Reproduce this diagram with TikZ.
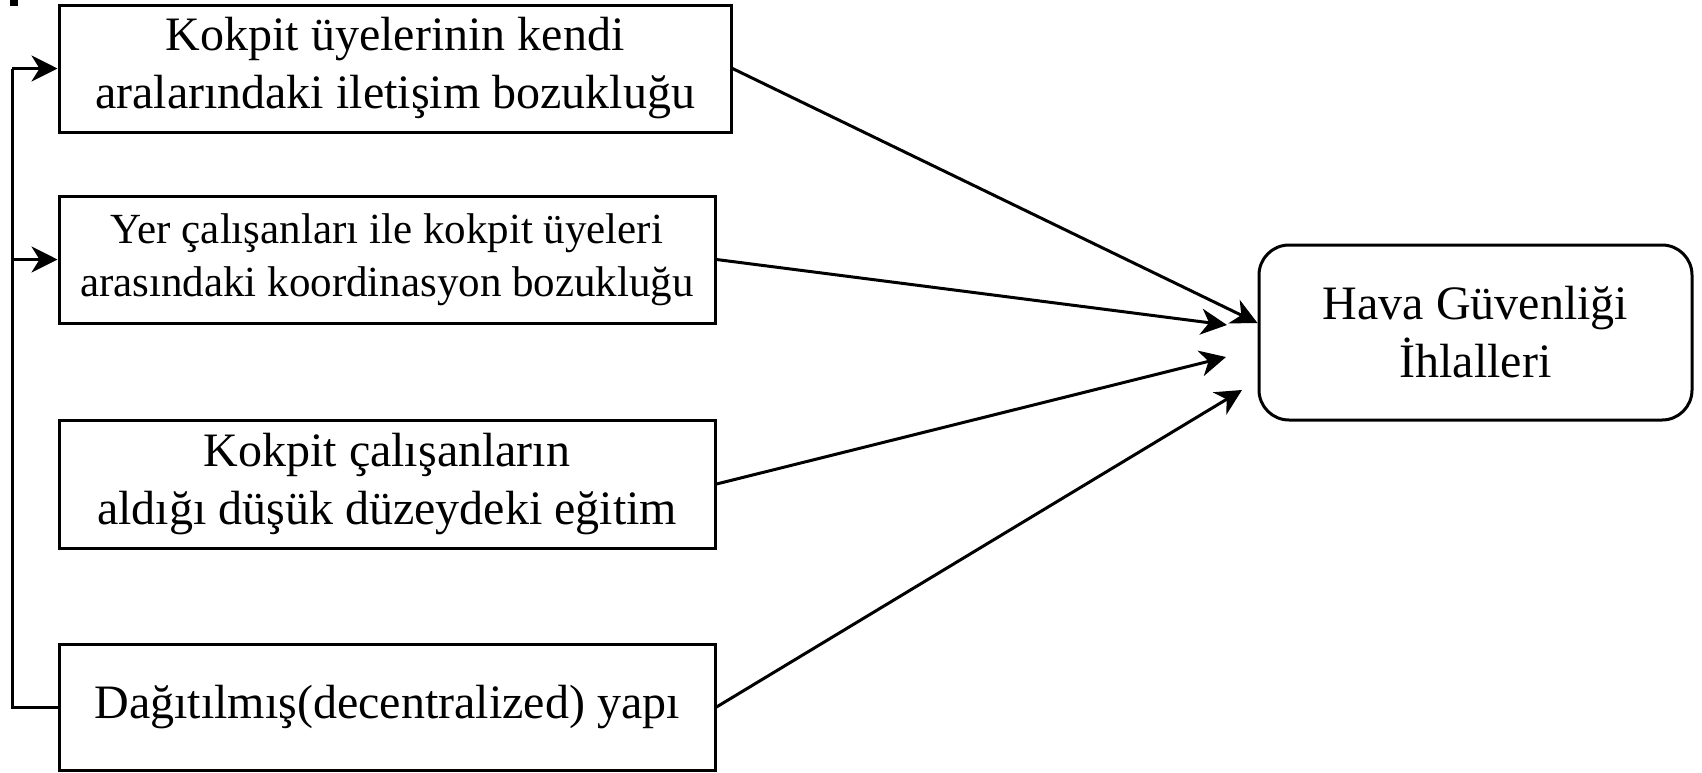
\documentclass[tikz,border=0pt]{standalone}
\usepackage{fontspec}
\setmainfont{Liberation Serif}
\usetikzlibrary{arrows.meta}
\tikzset{
  box/.style={draw, line width=3pt, rectangle, align=center, inner sep=0pt},
  bigtext/.style={font=\fontsize{48}{58}\selectfont},
  smalltext/.style={font=\fontsize{43}{53}\selectfont},
  arr/.style={-{Stealth[length=26pt,width=26pt,inset=8pt]}, line width=3pt},
  conn/.style={line width=3pt}
}
\begin{document}
\begin{tikzpicture}[x=1pt,y=-1pt]
\useasboundingbox (0,0) rectangle (1702,772);
\fill (10,0) rectangle (18,6);
\node[box,bigtext,minimum width=672pt,minimum height=127pt] (b1) at (395,68.5) {Kokpit üyelerinin kendi\\aralarındaki iletişim bozukluğu};
\node[box,smalltext,minimum width=656pt,minimum height=127pt] (b2) at (387,259.5) {Yer çalışanları ile kokpit üyeleri\\arasındaki koordinasyon bozukluğu};
\node[box,bigtext,minimum width=656pt,minimum height=128pt] (b3) at (387,484) {Kokpit çalışanların\\aldığı düşük düzeydeki eğitim};
\node[box,bigtext,minimum width=656pt,minimum height=126pt] (b4) at (387,707) {Dağıtılmış(decentralized) yapı};
\node[box,bigtext,rounded corners=30pt,minimum width=433pt,minimum height=175pt] (t) at (1475.5,332.5) {Hava Güvenliği\\İhlalleri};
\coordinate (bl) at (12,707);
\coordinate (tl) at (12,68.5);
\coordinate (ml) at (12,259.5);
\draw[conn] (b4.west) -- (bl) -- (tl);
\draw[arr] (tl) -- (b1.west);
\draw[arr] (ml) -- (b2.west);
\coordinate (e1) at (t.west);
\coordinate (e2) at (1227,325);
\coordinate (e3) at (1226,357);
\coordinate (e4) at (1242,390);
\draw[arr] (b1.east) -- (e1 |- 0,323);
\draw[arr] (b2.east) -- (e2);
\draw[arr] (b3.east) -- (e3);
\draw[arr] (b4.east) -- (e4);
\end{tikzpicture}
\end{document}
